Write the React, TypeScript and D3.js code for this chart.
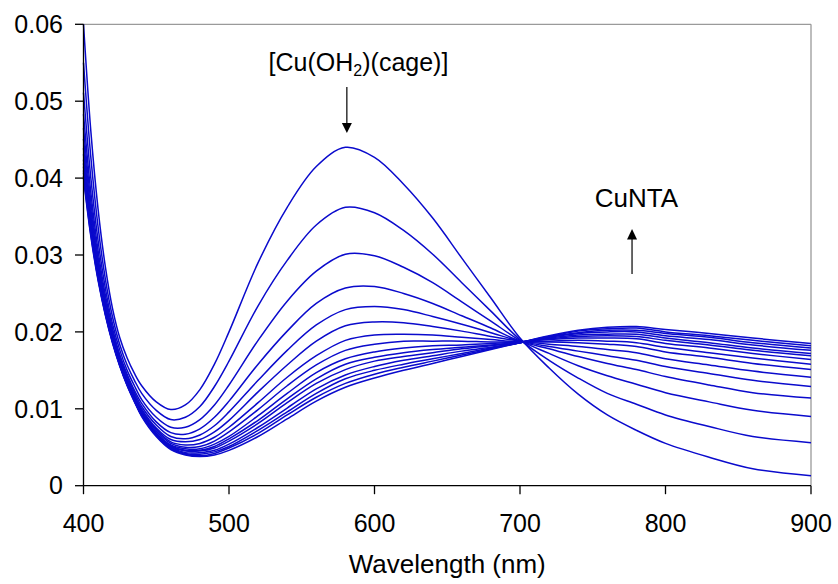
import React from "react";
import * as d3 from "d3";

const wavelengths = [400, 405, 410, 415, 420, 425, 430, 435, 440, 450, 460, 470, 480, 490, 500, 520, 540, 560, 580, 600, 620, 640, 660, 680, 700, 720, 740, 760, 780, 800, 830, 860, 900];

const curve01 = [0.0600, 0.0462, 0.0360, 0.0285, 0.0230, 0.0192, 0.0166, 0.0146, 0.0130, 0.0109, 0.0099, 0.0105, 0.0125, 0.0158, 0.0200, 0.0290, 0.0362, 0.0415, 0.0440, 0.0427, 0.0392, 0.0348, 0.0296, 0.0244, 0.0192, 0.0153, 0.0119, 0.0092, 0.0072, 0.0055, 0.0037, 0.0022, 0.0013];
const curve02 = [0.0550, 0.0428, 0.0337, 0.0269, 0.0219, 0.0183, 0.0157, 0.0137, 0.0120, 0.0098, 0.0086, 0.0089, 0.0103, 0.0129, 0.0162, 0.0234, 0.0293, 0.0339, 0.0362, 0.0355, 0.0332, 0.0301, 0.0264, 0.0227, 0.0190, 0.0163, 0.0140, 0.0120, 0.0106, 0.0092, 0.0077, 0.0064, 0.0056];
const curve03 = [0.0511, 0.0401, 0.0319, 0.0257, 0.0210, 0.0176, 0.0150, 0.0130, 0.0112, 0.0089, 0.0076, 0.0076, 0.0086, 0.0105, 0.0131, 0.0189, 0.0240, 0.0279, 0.0301, 0.0299, 0.0284, 0.0264, 0.0239, 0.0214, 0.0189, 0.0172, 0.0156, 0.0143, 0.0132, 0.0121, 0.0109, 0.0098, 0.0090];
const curve04 = [0.0483, 0.0382, 0.0306, 0.0248, 0.0204, 0.0170, 0.0145, 0.0124, 0.0107, 0.0083, 0.0069, 0.0067, 0.0074, 0.0089, 0.0110, 0.0158, 0.0201, 0.0237, 0.0257, 0.0259, 0.0250, 0.0237, 0.0221, 0.0205, 0.0188, 0.0178, 0.0168, 0.0159, 0.0151, 0.0142, 0.0131, 0.0121, 0.0114];
const curve05 = [0.0465, 0.0370, 0.0297, 0.0242, 0.0200, 0.0167, 0.0142, 0.0121, 0.0103, 0.0079, 0.0064, 0.0061, 0.0066, 0.0078, 0.0096, 0.0137, 0.0176, 0.0209, 0.0229, 0.0233, 0.0229, 0.0220, 0.0210, 0.0199, 0.0188, 0.0181, 0.0175, 0.0169, 0.0163, 0.0155, 0.0146, 0.0137, 0.0129];
const curve06 = [0.0451, 0.0360, 0.0291, 0.0238, 0.0196, 0.0164, 0.0139, 0.0118, 0.0100, 0.0075, 0.0060, 0.0057, 0.0060, 0.0070, 0.0085, 0.0122, 0.0157, 0.0188, 0.0208, 0.0213, 0.0212, 0.0207, 0.0201, 0.0194, 0.0188, 0.0184, 0.0181, 0.0177, 0.0173, 0.0165, 0.0157, 0.0149, 0.0141];
const curve07 = [0.0439, 0.0352, 0.0285, 0.0234, 0.0194, 0.0162, 0.0137, 0.0116, 0.0098, 0.0073, 0.0057, 0.0053, 0.0055, 0.0063, 0.0076, 0.0108, 0.0141, 0.0169, 0.0189, 0.0196, 0.0197, 0.0196, 0.0193, 0.0190, 0.0187, 0.0187, 0.0186, 0.0184, 0.0181, 0.0174, 0.0167, 0.0159, 0.0151];
const curve08 = [0.0431, 0.0346, 0.0281, 0.0232, 0.0192, 0.0161, 0.0136, 0.0115, 0.0096, 0.0071, 0.0055, 0.0050, 0.0051, 0.0058, 0.0070, 0.0099, 0.0130, 0.0157, 0.0176, 0.0184, 0.0188, 0.0188, 0.0188, 0.0187, 0.0187, 0.0188, 0.0189, 0.0188, 0.0186, 0.0180, 0.0173, 0.0166, 0.0158];
const curve09 = [0.0424, 0.0341, 0.0278, 0.0230, 0.0190, 0.0159, 0.0134, 0.0113, 0.0095, 0.0069, 0.0053, 0.0048, 0.0048, 0.0054, 0.0064, 0.0091, 0.0120, 0.0147, 0.0165, 0.0174, 0.0179, 0.0182, 0.0183, 0.0185, 0.0187, 0.0190, 0.0192, 0.0192, 0.0191, 0.0185, 0.0179, 0.0172, 0.0164];
const curve10 = [0.0419, 0.0338, 0.0276, 0.0228, 0.0189, 0.0159, 0.0133, 0.0113, 0.0094, 0.0068, 0.0052, 0.0046, 0.0046, 0.0051, 0.0061, 0.0085, 0.0113, 0.0139, 0.0158, 0.0167, 0.0173, 0.0177, 0.0180, 0.0183, 0.0187, 0.0191, 0.0194, 0.0195, 0.0194, 0.0189, 0.0183, 0.0176, 0.0169];
const curve11 = [0.0415, 0.0335, 0.0274, 0.0227, 0.0188, 0.0158, 0.0133, 0.0112, 0.0093, 0.0067, 0.0051, 0.0045, 0.0045, 0.0049, 0.0058, 0.0081, 0.0108, 0.0133, 0.0151, 0.0162, 0.0168, 0.0173, 0.0178, 0.0182, 0.0186, 0.0192, 0.0196, 0.0197, 0.0197, 0.0192, 0.0186, 0.0179, 0.0172];
const curve12 = [0.0410, 0.0332, 0.0272, 0.0225, 0.0187, 0.0157, 0.0132, 0.0111, 0.0092, 0.0066, 0.0050, 0.0043, 0.0043, 0.0046, 0.0054, 0.0076, 0.0101, 0.0126, 0.0144, 0.0155, 0.0163, 0.0169, 0.0175, 0.0180, 0.0186, 0.0193, 0.0198, 0.0200, 0.0200, 0.0195, 0.0190, 0.0183, 0.0176];
const curve13 = [0.0407, 0.0330, 0.0270, 0.0224, 0.0187, 0.0156, 0.0131, 0.0110, 0.0091, 0.0066, 0.0049, 0.0042, 0.0041, 0.0044, 0.0051, 0.0072, 0.0096, 0.0120, 0.0139, 0.0150, 0.0158, 0.0165, 0.0172, 0.0179, 0.0186, 0.0194, 0.0199, 0.0202, 0.0202, 0.0198, 0.0193, 0.0186, 0.0179];
const curve14 = [0.0403, 0.0327, 0.0269, 0.0223, 0.0186, 0.0156, 0.0131, 0.0110, 0.0091, 0.0065, 0.0048, 0.0041, 0.0039, 0.0042, 0.0049, 0.0068, 0.0092, 0.0115, 0.0133, 0.0145, 0.0154, 0.0162, 0.0170, 0.0178, 0.0186, 0.0194, 0.0201, 0.0204, 0.0205, 0.0200, 0.0195, 0.0189, 0.0182];
const curve15 = [0.0400, 0.0325, 0.0267, 0.0222, 0.0185, 0.0155, 0.0130, 0.0109, 0.0090, 0.0064, 0.0047, 0.0040, 0.0038, 0.0040, 0.0046, 0.0064, 0.0087, 0.0110, 0.0128, 0.0140, 0.0150, 0.0159, 0.0168, 0.0177, 0.0186, 0.0195, 0.0202, 0.0206, 0.0207, 0.0203, 0.0198, 0.0192, 0.0185];

const curves = [curve01, curve02, curve03, curve04, curve05, curve06, curve07, curve08, curve09, curve10, curve11, curve12, curve13, curve14, curve15];

const xTicks = [400, 500, 600, 700, 800, 900];
const yTicks = [0, 0.01, 0.02, 0.03, 0.04, 0.05, 0.06];
const yTickLabels = ["0", "0.01", "0.02", "0.03", "0.04", "0.05", "0.06"];

const xTitle = "Wavelength (nm)";
const cageArrowAt = 581;
const cageLabelAt = 589;
const ntaArrowAt = 777;
const ntaLabelAt = 780;

const FONT = "'Liberation Sans', Arial, sans-serif";

export default function App() {
  const W = 838;
  const H = 584;
  const left = 83.5;
  const right = 811;
  const top = 24.3;
  const bottom = 485.7;

  const x = d3.scaleLinear().domain([400, 900]).range([left, right]);
  const y = d3.scaleLinear().domain([0, 0.06]).range([bottom, top]);

  const line = d3
    .line<number>()
    .x((_, i) => x(wavelengths[i]))
    .y((d) => y(d))
    .curve(d3.curveCatmullRom.alpha(0.5));

  const ax1 = x(cageArrowAt);
  const ax2 = x(ntaArrowAt);

  return (
    <svg
      width={W}
      height={H}
      style={{ position: "absolute", left: 0, top: 0, background: "#fff" }}
      fontFamily={FONT}
    >
      <rect x={0} y={0} width={W} height={H} fill="#fff" />
      <line x1={left} x2={right} y1={top} y2={top} stroke="#9a9a9a" strokeWidth={1.3} />
      <line x1={right} x2={right} y1={top} y2={bottom} stroke="#9a9a9a" strokeWidth={1.3} />

      <g fill="none" stroke="#0a0acc" strokeWidth={1.5}>
        {curves.map((c, i) => (
          <path key={i} d={line(c) || ""} />
        ))}
      </g>

      <line x1={left} x2={left} y1={top} y2={bottom} stroke="#000" strokeWidth={1.3} />
      <line x1={left} x2={right} y1={bottom} y2={bottom} stroke="#000" strokeWidth={1.3} />

      {yTicks.map((t, i) => (
        <g key={"y" + i}>
          <line x1={left - 8.5} x2={left} y1={y(t)} y2={y(t)} stroke="#000" strokeWidth={1.3} />
          <text x={63} y={y(t)} dy="0.35em" textAnchor="end" fontSize={25} fill="#000">
            {yTickLabels[i]}
          </text>
        </g>
      ))}
      {xTicks.map((t, i) => (
        <g key={"x" + i}>
          <line x1={x(t)} x2={x(t)} y1={bottom} y2={bottom + 8.5} stroke="#000" strokeWidth={1.3} />
          <text x={x(t)} y={532} textAnchor="middle" fontSize={25} fill="#000">
            {String(t)}
          </text>
        </g>
      ))}

      <text x={(left + right) / 2} y={573} textAnchor="middle" fontSize={26} fill="#000">
        {xTitle}
      </text>

      <text x={x(cageLabelAt)} y={71} textAnchor="middle" fontSize={25} fill="#000">
        [Cu(OH
        <tspan fontSize={16} dy={5}>2</tspan>
        <tspan dy={-5}>)(cage)]</tspan>
      </text>
      <line x1={ax1} x2={ax1} y1={87} y2={124} stroke="#000" strokeWidth={1.2} />
      <path d={`M${ax1 - 5},${123} L${ax1 + 5},${123} L${ax1},${133} Z`} fill="#000" />

      <text x={x(ntaLabelAt)} y={207} textAnchor="middle" fontSize={26} fill="#000">
        CuNTA
      </text>
      <line x1={ax2} x2={ax2} y1={274} y2={238} stroke="#000" strokeWidth={1.2} />
      <path d={`M${ax2 - 5},${239.5} L${ax2 + 5},${239.5} L${ax2},${229} Z`} fill="#000" />
    </svg>
  );
}
